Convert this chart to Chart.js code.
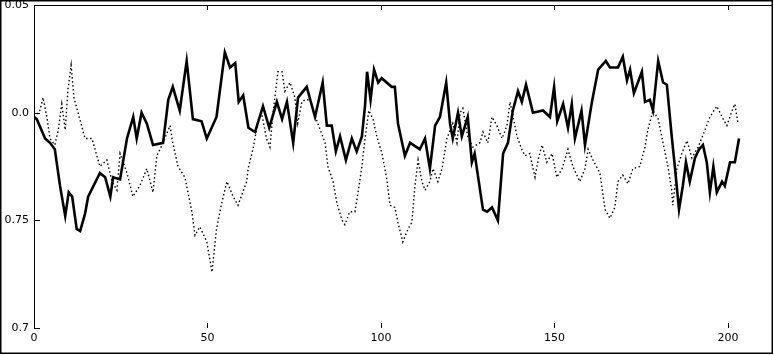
<!DOCTYPE html>
<html>
<head>
<meta charset="utf-8">
<script src="https://cdn.jsdelivr.net/npm/chart.js@4.4.1/dist/chart.umd.min.js"></script>
<style>
    html, body { margin: 0; padding: 0; background: #fff; }
    canvas { display: block; }
</style>
</head>
<body>
<canvas id="trace-chart" width="774" height="355"></canvas>
<script>
// Tick values and the labels printed beside them
const xTicks = [0, 50, 100, 150, 200];
const yTicks = [0.7, 0.75, 0.8, 0.85];
const yTickLabels = ['0.7', '0.75', '0.0', '0.05'];

// Solid (thick) series
const solidX = [
    0, 0.8, 3.2, 4.6, 6, 7.5, 9, 10, 11, 12.3,
    13.3, 14.7, 15.6, 19, 20.5, 22, 22.8, 24.8, 26.8, 28.6,
    29.6, 31, 32.5, 34.3, 37.2, 38.7, 40, 42, 44, 45.8,
    48.3, 49.8, 52.6, 55, 56.5, 58, 59, 60.3, 61.8, 63.7,
    66, 67.8, 70, 71.5, 72.9, 74.7, 76.1, 78.6, 81, 83.2,
    84.4, 85.8, 87, 88.2, 89.9, 91.6, 93, 94.5, 95.4, 96,
    97, 98, 99.2, 100.2, 103.1, 104, 104.9, 106.9, 108.4, 111.2,
    112.7, 114.1, 115.6, 117, 118.8, 119.9, 120.7, 122.2, 123.3, 125,
    126.2, 127, 129.4, 130.6, 132, 133.7, 135.2, 136.6, 138, 139.5,
    140.6, 141.8, 143.8, 146.7, 148.7, 149.9, 150.8, 152.5, 153.9, 155,
    155.9, 157.8, 158.8, 160.8, 162.6, 164.8, 166, 168.3, 169.7, 170.9,
    171.8, 172.9, 175.2, 176.1, 177.5, 178.4, 179.9, 181.3, 182.4, 183.8,
    184.7, 185.9, 187, 187.9, 189, 190.5, 191.7, 192.8, 193.9, 194.8,
    195.8, 196.8, 198.3, 199.1, 200.6, 202, 203.2
];
const solidY = [
    0.798, 0.797, 0.788, 0.786, 0.783, 0.766, 0.752, 0.763, 0.761, 0.746,
    0.745, 0.753, 0.761, 0.772, 0.770, 0.761, 0.770, 0.769, 0.788, 0.798,
    0.788, 0.800, 0.795, 0.785, 0.786, 0.806, 0.812, 0.801, 0.824, 0.797,
    0.796, 0.788, 0.798, 0.828, 0.821, 0.823, 0.805, 0.808, 0.793, 0.791,
    0.803, 0.793, 0.805, 0.797, 0.805, 0.786, 0.807, 0.812, 0.798, 0.814,
    0.794, 0.794, 0.782, 0.789, 0.778, 0.788, 0.782, 0.789, 0.803, 0.819,
    0.806, 0.820, 0.814, 0.816, 0.812, 0.812, 0.795, 0.780, 0.786, 0.783,
    0.788, 0.774, 0.794, 0.798, 0.814, 0.795, 0.788, 0.800, 0.789, 0.798,
    0.777, 0.781, 0.755, 0.754, 0.756, 0.750, 0.781, 0.786, 0.801, 0.810,
    0.805, 0.813, 0.800, 0.801, 0.798, 0.812, 0.796, 0.804, 0.793, 0.804,
    0.788, 0.801, 0.785, 0.805, 0.820, 0.824, 0.821, 0.821, 0.826, 0.815,
    0.820, 0.809, 0.819, 0.805, 0.806, 0.801, 0.824, 0.814, 0.813, 0.789,
    0.775, 0.755, 0.766, 0.777, 0.768, 0.779, 0.783, 0.785, 0.777, 0.763,
    0.775, 0.763, 0.768, 0.766, 0.777, 0.777, 0.788
];

// Dotted (thin) series
const dottedX = [
    0, 1.7, 2.6, 3.7, 4.6, 6, 7, 8, 9, 9.8,
    10.7, 11.5, 12.7, 14.7, 16.7, 19, 21, 22.5, 23.9, 24.8,
    26.8, 28.5, 30.5, 32.5, 34.3, 35.4, 37.2, 39.2, 40, 41.5,
    43.5, 45.5, 46.4, 47.8, 49.8, 51.3, 52.6, 54.1, 55.6, 57.4,
    58.8, 61.3, 61.7, 63.1, 64.8, 65.7, 67, 68, 68.9, 70.3,
    71.5, 72.3, 73.8, 75.2, 76, 77.2, 78.1, 79.5, 81.8, 83.9,
    84.7, 86.2, 87.3, 88.8, 89.6, 91, 92.5, 93.4, 94.5, 95.4,
    96.5, 97.7, 98.8, 100.3, 101.7, 102.6, 104, 104.9, 106.3, 107.8,
    108.9, 109.8, 110.7, 111.8, 112.7, 114.1, 115, 116.4, 117.6, 119,
    120.7, 121.9, 122.8, 123.6, 125, 126.5, 128.5, 129.4, 130.8, 132,
    133.4, 134.9, 136.3, 137.2, 138.1, 139.2, 140.6, 141.5, 142.9, 144.4,
    145.3, 146.4, 147.8, 149.3, 150.7, 152.2, 153.9, 155.3, 157.3, 158.8,
    159.7, 161.1, 163.1, 164.6, 166, 167.4, 168.3, 169.7, 171.2, 172.6,
    174.6, 176.1, 176.9, 178.4, 179.9, 181.3, 182.7, 183.8, 184.1, 185.3,
    186.7, 188.2, 189.6, 191.4, 193.4, 194.8, 196.8, 198.3, 199.7, 201.2,
    202, 202.9
];
const dottedY = [
    0.798, 0.801, 0.807, 0.798, 0.788, 0.785, 0.792, 0.804, 0.792, 0.811,
    0.822, 0.807, 0.800, 0.788, 0.788, 0.775, 0.778, 0.768, 0.764, 0.781,
    0.772, 0.761, 0.766, 0.774, 0.763, 0.780, 0.786, 0.794, 0.786, 0.775,
    0.770, 0.754, 0.743, 0.747, 0.740, 0.726, 0.746, 0.758, 0.768, 0.761,
    0.757, 0.768, 0.774, 0.783, 0.798, 0.799, 0.788, 0.784, 0.800, 0.819,
    0.819, 0.810, 0.814, 0.807, 0.795, 0.805, 0.806, 0.806, 0.795, 0.786,
    0.775, 0.768, 0.758, 0.750, 0.748, 0.754, 0.754, 0.763, 0.775, 0.788,
    0.801, 0.797, 0.789, 0.781, 0.769, 0.757, 0.756, 0.749, 0.740, 0.746,
    0.749, 0.766, 0.778, 0.768, 0.764, 0.768, 0.774, 0.768, 0.774, 0.788,
    0.795, 0.786, 0.800, 0.802, 0.789, 0.784, 0.786, 0.791, 0.786, 0.798,
    0.794, 0.788, 0.794, 0.805, 0.798, 0.789, 0.783, 0.780, 0.781, 0.770,
    0.778, 0.785, 0.777, 0.781, 0.770, 0.774, 0.783, 0.775, 0.768, 0.774,
    0.783, 0.778, 0.772, 0.755, 0.751, 0.756, 0.768, 0.771, 0.767, 0.774,
    0.775, 0.784, 0.792, 0.801, 0.797, 0.786, 0.775, 0.764, 0.757, 0.774,
    0.781, 0.787, 0.779, 0.784, 0.792, 0.798, 0.803, 0.798, 0.794, 0.801,
    0.804, 0.795
];

function toPoints(xs, ys) {
    return xs.map((x, i) => ({ x: x, y: ys[i] }));
}

// Frame, inward tick marks and white background
const framePlugin = {
    id: 'frame',
    beforeDraw(chart) {
        const ctx = chart.ctx;
        ctx.save();
        ctx.fillStyle = '#fff';
        ctx.fillRect(0, 0, chart.width, chart.height);
        ctx.restore();
    },
    afterDraw(chart) {
        const ctx = chart.ctx;
        const area = chart.chartArea;
        const xs = chart.scales.x;
        const ys = chart.scales.y;
        ctx.save();
        ctx.strokeStyle = '#000';
        ctx.lineWidth = 1;

        // top edge of the plot box
        ctx.beginPath();
        ctx.moveTo(area.left, Math.round(area.top) + 0.5);
        ctx.lineTo(area.right, Math.round(area.top) + 0.5);
        ctx.stroke();

        // x ticks, bottom and top, pointing inward
        xTicks.forEach(v => {
            const px = Math.round(xs.getPixelForValue(v)) + 0.5;
            ctx.beginPath();
            ctx.moveTo(px, area.bottom);
            ctx.lineTo(px, area.bottom - 5);
            ctx.moveTo(px, area.top);
            ctx.lineTo(px, area.top + 5);
            ctx.stroke();
        });

        // y ticks pointing inward
        yTicks.forEach(v => {
            const py = Math.round(ys.getPixelForValue(v)) + 0.5;
            ctx.beginPath();
            ctx.moveTo(area.left, py);
            ctx.lineTo(area.left + 6, py);
            ctx.stroke();
        });

        // outer border of the picture
        ctx.lineWidth = 1.5;
        ctx.strokeRect(0.75, 0.75, 771.5, 352.5);
        ctx.restore();
    }
};

const tickFont = { family: 'DejaVu Sans', size: 11 };

new Chart(document.getElementById('trace-chart'), {
    type: 'line',
    data: {
        datasets: [{
            label: 'solid',
            data: toPoints(solidX, solidY),
            borderColor: '#000',
            borderWidth: 2.6,
            pointRadius: 0,
            tension: 0,
            fill: false
        }, {
            label: 'dotted',
            data: toPoints(dottedX, dottedY),
            borderColor: '#000',
            borderWidth: 1.4,
            borderDash: [1.5, 2.5],
            pointRadius: 0,
            tension: 0,
            fill: false
        }]
    },
    options: {
        responsive: false,
        animation: false,
        devicePixelRatio: 1,
        layout: {
            padding: { top: 5, right: 2, bottom: 0, left: 0 }
        },
        plugins: {
            legend: { display: false },
            tooltip: { enabled: false }
        },
        scales: {
            x: {
                type: 'linear',
                min: 0,
                max: 212.7,
                grid: { display: false, drawTicks: false },
                border: { display: false },
                ticks: {
                    stepSize: 50,
                    includeBounds: false,
                    maxRotation: 0,
                    padding: 4,
                    color: '#000',
                    font: tickFont
                },
                afterFit(scale) {
                    scale.height = 27;
                    scale.paddingLeft = 0;
                    scale.paddingRight = 0;
                }
            },
            y: {
                type: 'linear',
                min: 0.7,
                max: 0.85,
                grid: { display: false, drawTicks: false },
                border: { display: true, color: '#000', width: 1 },
                ticks: {
                    stepSize: 0.05,
                    padding: 5,
                    color: '#000',
                    font: tickFont,
                    callback: (value, index) => yTickLabels[index]
                },
                afterFit(scale) {
                    scale.width = 34;
                    scale.paddingTop = 0;
                    scale.paddingBottom = 0;
                }
            }
        }
    },
    plugins: [framePlugin]
});
</script>
</body>
</html>
